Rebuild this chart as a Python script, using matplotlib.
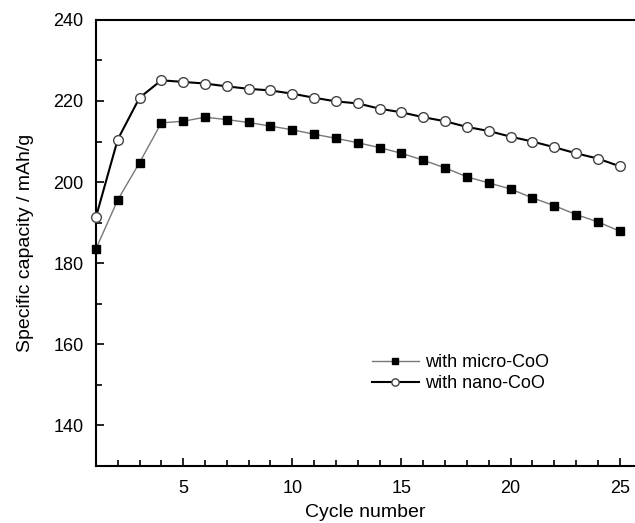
import matplotlib
matplotlib.use("Agg")
import matplotlib.pyplot as plt
from matplotlib.ticker import MultipleLocator

plt.rcParams['font.family'] = ['Liberation Sans', 'DejaVu Sans']

# data
cycles = list(range(1, 26))
micro_coo = [183.5, 195.6, 204.8, 214.6, 215.0, 216.0, 215.4, 214.7, 213.8, 212.9,
             211.8, 210.8, 209.7, 208.5, 207.1, 205.4, 203.5, 201.3, 199.8, 198.3,
             196.1, 194.2, 192.0, 190.2, 187.9]
nano_coo = [191.3, 210.5, 220.8, 225.1, 224.7, 224.3, 223.6, 223.0, 222.6, 221.8,
            220.8, 219.9, 219.4, 218.1, 217.2, 216.0, 215.0, 213.6, 212.6, 211.2,
            210.0, 208.6, 207.1, 205.8, 203.9]

fig = plt.figure(figsize=(6.35, 5.23), dpi=100)
ax = fig.add_axes([0.151, 0.109, 0.849, 0.853])

ax.plot(cycles, micro_coo, color="#777777", lw=1.0, marker="s", ms=6,
        mfc="black", mec="black", label="with micro-CoO", clip_on=False, zorder=3)
ax.plot(cycles, nano_coo, color="black", lw=1.5, marker="o", ms=7,
        mfc="white", mec="#444444", mew=1.0, label="with nano-CoO", clip_on=False, zorder=3)

ax.set_xlim(1, 25.7)
ax.set_ylim(130, 240)
ax.xaxis.set_major_locator(MultipleLocator(5))
ax.xaxis.set_minor_locator(MultipleLocator(1))
ax.yaxis.set_major_locator(MultipleLocator(20))
ax.yaxis.set_minor_locator(MultipleLocator(10))
ax.tick_params(which="both", direction="in", labelsize=13, width=1.2)
ax.tick_params(axis="x", which="both", pad=10)
ax.tick_params(axis="y", which="both", pad=9, right=False)
ax.tick_params(which="major", length=6)
ax.tick_params(which="minor", length=4)
ax.spines["right"].set_visible(False)
for s in ["left", "bottom", "top"]:
    ax.spines[s].set_linewidth(1.5)

ax.set_xlabel("Cycle number", fontsize=14, labelpad=5)
ax.set_ylabel("Specific capacity / mAh/g", fontsize=14, labelpad=14)

ax.legend(loc="center left", bbox_to_anchor=(0.482, 0.208), frameon=False,
          fontsize=13, handlelength=2.6, handletextpad=0.35, labelspacing=0.25,
          markerscale=0.75)

fig.savefig("out.png", dpi=100)
